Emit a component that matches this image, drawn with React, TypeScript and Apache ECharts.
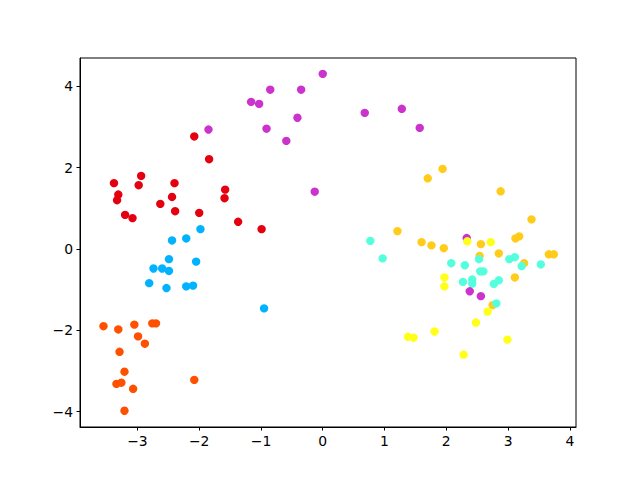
import React, { useEffect, useRef } from "react";
import * as echarts from "echarts";

const xTicks = [-3, -2, -1, 0, 1, 2, 3, 4];
const yTicks = [-4, -2, 0, 2, 4];

const red = [
  [-2.08, 2.77], [-1.84, 2.21], [-2.94, 1.8], [-3.38, 1.62], [-2.98, 1.57], [-2.4, 1.62],
  [-3.31, 1.34], [-3.33, 1.2], [-2.44, 1.28], [-1.58, 1.46], [-1.59, 1.25], [-2.63, 1.11],
  [-2.39, 0.93], [-2.0, 0.89], [-3.2, 0.84], [-3.08, 0.76], [-1.37, 0.67], [-0.99, 0.49],
];
const magenta = [
  [0.0, 4.31], [-0.85, 3.92], [-0.35, 3.92], [-1.16, 3.62], [-1.03, 3.57], [-0.41, 3.23],
  [-1.85, 2.94], [-0.91, 2.96], [-0.59, 2.66], [-0.13, 1.41], [0.68, 3.35], [1.28, 3.45],
  [1.57, 2.98], [2.33, 0.27], [2.38, -1.04], [2.56, -1.16],
];
const blue = [
  [-1.98, 0.49], [-2.21, 0.26], [-2.44, 0.21], [-2.49, -0.25], [-2.05, -0.31], [-2.74, -0.48],
  [-2.6, -0.48], [-2.49, -0.54], [-2.81, -0.84], [-2.53, -0.96], [-2.21, -0.92], [-2.1, -0.9],
  [-0.95, -1.46],
];
const orange = [
  [-3.55, -1.9], [-3.31, -1.98], [-3.05, -1.86], [-2.76, -1.83], [-2.7, -1.83], [-2.99, -2.15],
  [-2.88, -2.33], [-3.29, -2.53], [-3.21, -3.02], [-3.34, -3.32], [-3.26, -3.29], [-3.07, -3.44],
  [-3.21, -3.98], [-2.08, -3.22],
];
const gold = [
  [1.94, 1.97], [1.7, 1.74], [2.88, 1.42], [3.38, 0.73], [1.21, 0.44], [3.12, 0.26],
  [3.18, 0.31], [1.6, 0.17], [1.76, 0.09], [1.96, 0.02], [2.56, 0.12], [2.85, -0.11],
  [2.54, -0.17], [3.66, -0.13], [3.74, -0.13], [3.26, -0.35], [3.11, -0.7], [2.75, -1.38],
];
const cyan = [
  [0.77, 0.2], [0.97, -0.23], [2.08, -0.35], [2.3, -0.4], [2.53, -0.25], [2.55, -0.55],
  [2.6, -0.55], [3.02, -0.25], [3.11, -0.2], [3.22, -0.42], [3.53, -0.38], [2.27, -0.81],
  [2.42, -0.75], [2.42, -0.85], [2.77, -0.86], [2.85, -0.77], [2.81, -1.34],
];
const yellow = [
  [2.34, 0.19], [2.72, 0.17], [1.97, -0.7], [1.97, -0.92], [2.67, -1.54], [2.48, -1.81],
  [1.81, -2.03], [1.38, -2.16], [1.47, -2.18], [2.99, -2.23], [2.28, -2.6],
];

const groups: [number[][], string][] = [
  [red, "#e4000f"],
  [blue, "#00b2ff"],
  [orange, "#ff5000"],
  [gold, "#ffcc1a"],
  [cyan, "#55ffdd"],
  [magenta, "#cc33cc"],
  [yellow, "#ffff1a"],
];

export default function App() {
  const ref = useRef<HTMLDivElement>(null);
  useEffect(() => {
    document.body.style.margin = "0";
    const chart = echarts.init(ref.current!, null, { renderer: "svg" });
    const axisCommon = {
      axisLine: { show: true, onZero: false, lineStyle: { color: "#000", width: 1 } },
      splitLine: { show: false },
    };
    chart.setOption({
      animation: false,
      grid: {
        left: 80, right: 64, top: 58, bottom: 53,
        show: true, borderColor: "#000", borderWidth: 1, backgroundColor: "#fff",
      },
      xAxis: {
        type: "value", min: -3.93, max: 4.1,
        ...axisCommon,
        axisTick: { show: true, length: 3.5, lineStyle: { color: "#000" }, customValues: xTicks },
        axisLabel: {
          customValues: xTicks, margin: 7, color: "#000", fontSize: 13.9,
          fontFamily: "DejaVu Sans",
          formatter: (v: number) => (v < 0 ? "\u2212" + Math.abs(v) : String(v)),
        },
      },
      yAxis: {
        type: "value", min: -4.38, max: 4.7,
        ...axisCommon,
        axisTick: { show: true, length: 3.5, lineStyle: { color: "#000" }, customValues: yTicks },
        axisLabel: {
          customValues: yTicks, margin: 7, color: "#000", fontSize: 13.9,
          fontFamily: "DejaVu Sans",
          formatter: (v: number) => (v < 0 ? "\u2212" + Math.abs(v) : String(v)),
        },
      },
      series: groups.map(([d, c]) => ({
        type: "scatter",
        data: d,
        symbolSize: 8.4,
        itemStyle: { color: c, opacity: 1 },
        emphasis: { disabled: true },
      })),
    });
    return () => chart.dispose();
  }, []);
  return <div ref={ref} style={{ width: 640, height: 480, position: "absolute", left: 0, top: 0 }} />;
}
